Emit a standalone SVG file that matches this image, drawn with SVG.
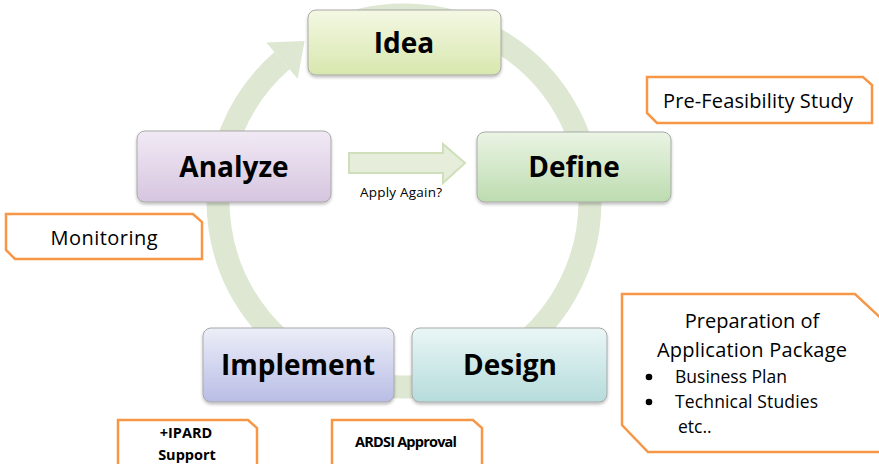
<svg xmlns="http://www.w3.org/2000/svg" width="879" height="464" viewBox="0 0 879 464">
<defs>
<linearGradient id="gIdea" x1="0" y1="0" x2="0" y2="1"><stop offset="0" stop-color="#f4f8e4"/><stop offset="1" stop-color="#d8e7ae"/></linearGradient>
<linearGradient id="gAnalyze" x1="0" y1="0" x2="0" y2="1"><stop offset="0" stop-color="#f1eaf5"/><stop offset="1" stop-color="#d6c5df"/></linearGradient>
<linearGradient id="gDefine" x1="0" y1="0" x2="0" y2="1"><stop offset="0" stop-color="#eaf4e4"/><stop offset="1" stop-color="#bddcb0"/></linearGradient>
<linearGradient id="gImpl" x1="0" y1="0" x2="0" y2="1"><stop offset="0" stop-color="#eceef8"/><stop offset="1" stop-color="#b9bde5"/></linearGradient>
<linearGradient id="gDesign" x1="0" y1="0" x2="0" y2="1"><stop offset="0" stop-color="#eaf6f6"/><stop offset="1" stop-color="#b5dcdb"/></linearGradient>
<filter id="sh" x="-10%" y="-10%" width="120%" height="130%"><feDropShadow dx="0" dy="2" stdDeviation="1.5" flood-color="#000" flood-opacity="0.25"/></filter>
<style>
.box{stroke:#a9a9a9;stroke-width:1;filter:url(#sh)}
.big{font-family:"Open Sans","DejaVu Sans",sans-serif;font-weight:700;font-size:28px;fill:#000;text-anchor:middle}
.call{fill:#fff;stroke:#f79646;stroke-width:2.5;stroke-linejoin:miter}
.ct{font-family:"Open Sans","DejaVu Sans",sans-serif;font-size:20px;fill:#000}
.bt{font-family:"Open Sans","DejaVu Sans",sans-serif;font-size:17.5px;fill:#000}
.sb{font-family:"Open Sans","DejaVu Sans",sans-serif;font-weight:700;font-size:14.5px;fill:#000;text-anchor:middle}
</style>
</defs>
<g id="connectors">
<path d="M322.5,33.8 A186,186 0 1 1 282.0,60.6" fill="none" stroke="#dde7d1" stroke-width="23"/>
<polygon points="266.2,42.5 304.6,40.9 297.7,78.7" fill="#dde7d1"/>
<g id="apply-again">
<polygon points="349,153 443,153 443,144 465,163 443,183 443,173 349,173" fill="#e6eedb" stroke="#cfdfba" stroke-width="2"/>
<text x="401" y="197" font-family="'Open Sans','DejaVu Sans',sans-serif" font-size="13.5" text-anchor="middle" textLength="82">Apply Again?</text>
</g>
</g>
<g id="idea"><rect class="box" x="308" y="10" width="193" height="65" rx="8" fill="url(#gIdea)"/><text class="big" x="404" y="52.5">Idea</text></g>
<g id="analyze"><rect class="box" x="137" y="131" width="194" height="71" rx="8" fill="url(#gAnalyze)"/><text class="big" x="234" y="177">Analyze</text></g>
<g id="define"><rect class="box" x="477" y="132" width="194" height="70" rx="8" fill="url(#gDefine)"/><text class="big" x="574" y="177">Define</text></g>
<g id="implement"><rect class="box" x="203" y="328" width="191" height="74" rx="8" fill="url(#gImpl)"/><text class="big" x="298" y="375">Implement</text></g>
<g id="design"><rect class="box" x="412" y="328" width="195" height="74" rx="8" fill="url(#gDesign)"/><text class="big" x="510" y="375">Design</text></g>
<g id="pre-feasibility"><polygon class="call" points="647,77 863,77 872,85 872,123 657,123 647,113"/><text class="ct" x="758" y="108" text-anchor="middle" textLength="190">Pre-Feasibility Study</text></g>
<g id="monitoring"><polygon class="call" points="6,214 193,214 202,222 202,259 15,259 6,250"/><text class="ct" x="104" y="245" text-anchor="middle" textLength="107">Monitoring</text></g>
<g id="preparation"><polygon class="call" points="622,294 855,294 885,322 885,452 648,452 622,425"/>
<text class="ct" x="752" y="328" text-anchor="middle">Preparation of</text>
<text class="ct" x="752" y="357" text-anchor="middle" textLength="190">Application Package</text>
<circle cx="649" cy="377" r="3.3" fill="#000"/><text class="bt" x="675" y="383" textLength="112">Business Plan</text>
<circle cx="649" cy="402" r="3.3" fill="#000"/><text class="bt" x="675" y="408" textLength="143">Technical Studies</text>
<text class="bt" x="678" y="433">etc..</text></g>
<g id="ipard"><polygon class="call" points="118,470 118,420 248,420 257,428 257,470"/><text class="sb" x="186" y="438">+IPARD</text><text class="sb" x="187" y="460">Support</text></g>
<g id="ardsi"><polygon class="call" points="332,470 332,420 473,420 482,428 482,470"/><text class="sb" x="406" y="447" font-size="13.5" textLength="102">ARDSI Approval</text></g>
</svg>
